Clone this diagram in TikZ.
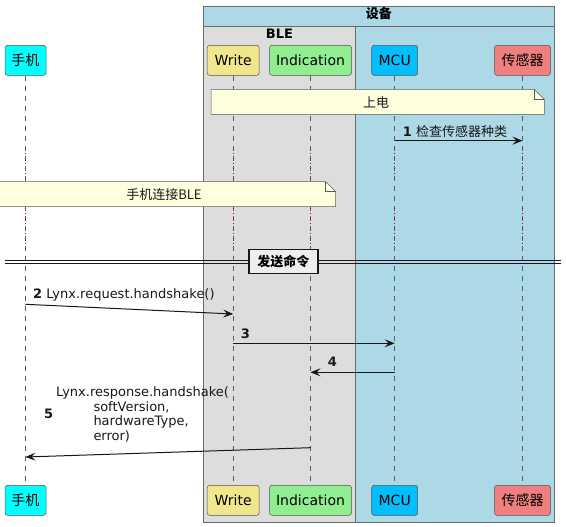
\documentclass[tikz,border=0pt]{standalone}
\usepackage{fontspec}
\setmainfont{DejaVu Sans}
\newfontfamily\cjk{Noto Sans CJK SC}
\usetikzlibrary{arrows.meta,calc}
\definecolor{devbg}{HTML}{ADD8E6}
\definecolor{blebg}{HTML}{DDDDDD}
\definecolor{cphone}{HTML}{00FFFF}
\definecolor{cwrite}{HTML}{F0E68C}
\definecolor{cind}{HTML}{90EE90}
\definecolor{cmcu}{HTML}{00BFFF}
\definecolor{csens}{HTML}{F08080}
\definecolor{notebg}{HTML}{FEFFDD}
\definecolor{ink}{HTML}{181818}
\definecolor{delayc}{HTML}{A80036}
\definecolor{grpline}{HTML}{6A6A6A}
\definecolor{divbg}{HTML}{EEEEEE}
\begin{document}
\begin{tikzpicture}[x=1pt,y=-1pt,
  part/.style={draw=ink!75, line width=0.5pt, rounded corners=2.5pt, minimum height=30pt, inner sep=0pt, font=\fontsize{14}{16}\selectfont},
  lifeline/.style={draw=ink!70, line width=0.6pt, dash pattern=on 5pt off 5pt},
  delayline/.style={draw=delayc, line width=0.8pt, dash pattern=on 0.8pt off 4.2pt},
  msg/.style={draw=ink, line width=1pt, -{Stealth[length=10pt,width=8pt,inset=4pt]}},
  lbl/.style={font=\fontsize{13}{15.5}\selectfont, inner sep=0pt, text=ink},
  notebox/.style={fill=notebg, draw=ink!70, line width=0.5pt},
  grptitle/.style={font=\fontsize{13}{15}\selectfont\bfseries, inner sep=0pt}
]
\useasboundingbox (0,0) rectangle (566,527);
% group boxes
\fill[devbg] (203.3,6) rectangle (554.5,522.3);
\fill[blebg] (203.3,26.3) rectangle (355.6,522.3);
\draw[grpline, line width=0.8pt] (203.3,6) rectangle (554.5,522.3);
\draw[grpline, line width=0.8pt] (203.3,26.3) -- (554.5,26.3);
\draw[grpline, line width=0.8pt] (355.6,26.3) -- (355.6,522.3);
\node[grptitle] (tdev) at (378.9,14) {\cjk 设备};
\node[grptitle] (tble) at (279.5,33.3) {BLE};
% participants
\node[part, fill=cphone, minimum width=41pt] (phT) at (25.5,60.3) {\cjk 手机};
\node[part, fill=cwrite, minimum width=52pt] (wrT) at (233.2,60.3) {Write};
\node[part, fill=cind, minimum width=82pt] (inT) at (310.5,60.3) {Indication};
\node[part, fill=cmcu, minimum width=46pt] (mcT) at (394.7,60.3) {MCU};
\node[part, fill=csens, minimum width=56pt] (seT) at (522.5,60.3) {\cjk 传感器};
\node[part, fill=cphone, minimum width=41pt] (phB) at (25.5,500.3) {\cjk 手机};
\node[part, fill=cwrite, minimum width=52pt] (wrB) at (233.2,500.3) {Write};
\node[part, fill=cind, minimum width=82pt] (inB) at (310.5,500.3) {Indication};
\node[part, fill=cmcu, minimum width=46pt] (mcB) at (394.7,500.3) {MCU};
\node[part, fill=csens, minimum width=56pt] (seB) at (522.5,500.3) {\cjk 传感器};
% lifelines
\foreach \p in {ph,wr,in,mc,se} {
  \draw[lifeline] (\p T.south) -- (\p B.north);
  \draw[delayline] ($(\p T.south)+(0,72)$) -- ($(\p T.south)+(0,106)$);
  \draw[delayline] ($(\p T.south)+(0,132)$) -- ($(\p T.south)+(0,169)$);
}
% note 上电
\draw[notebox] (211.2,89.3) -- (534.4,89.3) -- (544.4,99.3) -- (544.4,114.3) -- (211.2,114.3) -- cycle;
\draw[ink!70, line width=0.5pt] (534.4,89.3) -- (534.4,99.3) -- (544.4,99.3);
\node[lbl] (n1) at (376,102) {\cjk 上电};
% message 1
\coordinate (m1a) at (mcT.south |- 0,140.7);
\coordinate (m1b) at (seT.south |- 0,140.7);
\draw[msg] (m1a) -- (m1b);
\node[lbl, anchor=west] (l1) at (402.7,131.7) {\textbf{1} {\cjk 检查传感器种类}};
% note 手机连接BLE
\draw[notebox] (-7,181.7) -- (325.7,181.7) -- (335.7,191.7) -- (335.7,206.7) -- (-7,206.7) -- cycle;
\draw[ink!70, line width=0.5pt] (325.7,181.7) -- (325.7,191.7) -- (335.7,191.7);
\node[lbl] (n2) at (164,194.3) {\cjk 手机连接BLE};
% divider
\draw[ink, line width=0.9pt] (5,260) -- (561,260);
\draw[ink, line width=0.9pt] (5,263.5) -- (561,263.5);
\node[draw=ink, line width=1.6pt, fill=divbg, minimum width=69pt, minimum height=24pt, inner sep=0pt, font=\fontsize{13}{15}\selectfont\bfseries] (div) at (283.3,261.5) {\cjk 发送命令};
% message 2
\coordinate (m2a) at (phT.south |- 0,304.3);
\coordinate (m2b) at (wrT.south |- 0,314);
\draw[msg] (m2a) -- (m2b);
\node[lbl, anchor=west] (l2) at (33,295) {\textbf{2} Lynx.request.handshake()};
% message 3
\coordinate (m3a) at (wrT.south |- 0,343.3);
\coordinate (m3b) at (mcT.south |- 0,343.3);
\draw[msg] (m3a) -- (m3b);
\node[lbl, anchor=west] (l3) at (240.7,333.3) {\textbf{3}};
% message 4
\coordinate (m4a) at (mcT.south |- 0,372.3);
\coordinate (m4b) at (inT.south |- 0,372.3);
\draw[msg] (m4a) -- (m4b);
\node[lbl, anchor=west] (l4) at (327.7,361.7) {\textbf{4}};
% message 5
\coordinate (m5a) at (inT.south |- 0,447.7);
\coordinate (m5b) at (phT.south |- 0,457);
\draw[msg] (m5a) -- (m5b);
\node[lbl, anchor=west] (l5) at (43.8,414.3) {\textbf{5}};
\node[lbl, anchor=west] (l5a) at (56,392.7) {Lynx.response.handshake(};
\node[lbl, anchor=west] (l5b) at (93.3,407.5) {softVersion,};
\node[lbl, anchor=west] (l5c) at (93.3,422.2) {hardwareType,};
\node[lbl, anchor=west] (l5d) at (93.3,436.9) {error)};
\end{tikzpicture}
\end{document}
